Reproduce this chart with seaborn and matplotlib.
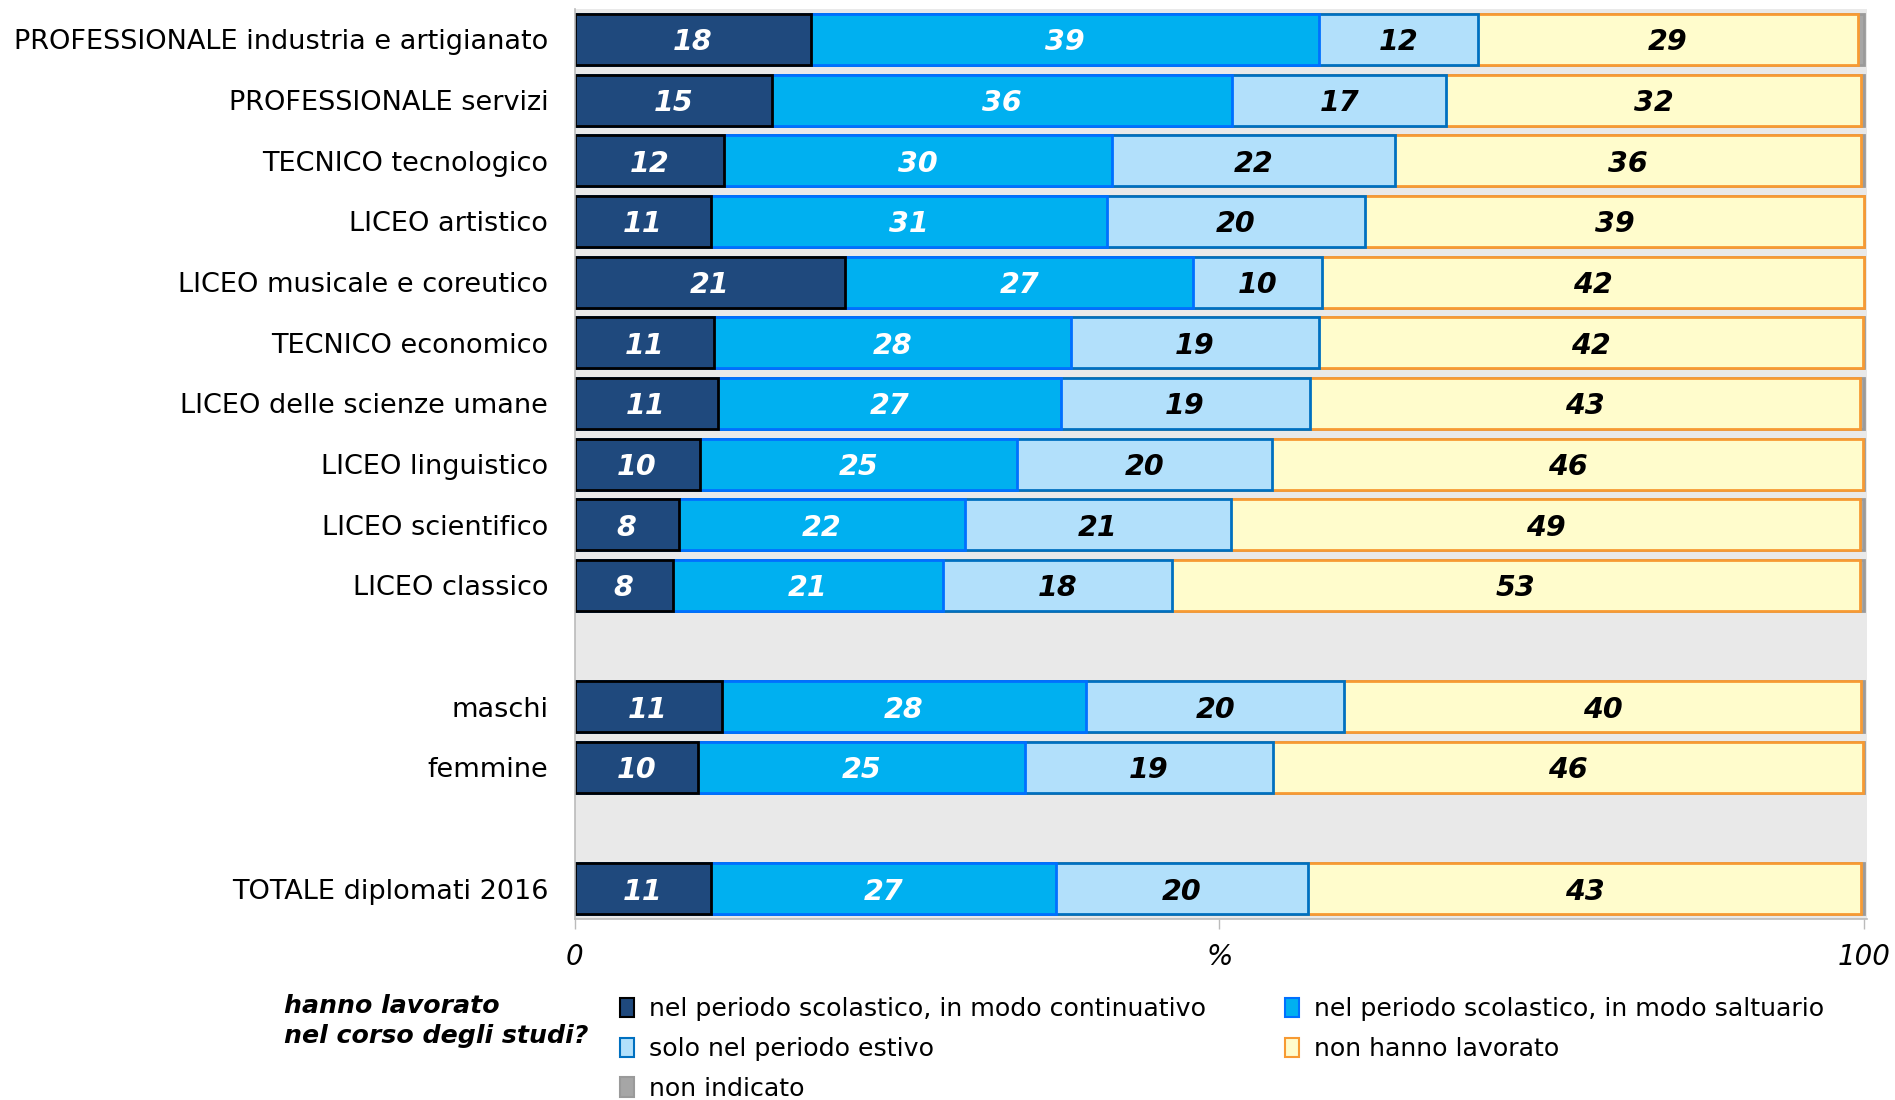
"""Stacked horizontal bars: lavoro durante gli studi per tipo di scuola."""

import matplotlib

matplotlib.use("Agg")

import matplotlib.pyplot as plt
import pandas as pd
import seaborn as sns
from matplotlib.patches import Patch

categories = [
    "PROFESSIONALE industria e artigianato",
    "PROFESSIONALE servizi",
    "TECNICO tecnologico",
    "LICEO artistico",
    "LICEO musicale e coreutico",
    "TECNICO economico",
    "LICEO delle scienze umane",
    "LICEO linguistico",
    "LICEO scientifico",
    "LICEO classico",
    "maschi",
    "femmine",
    "TOTALE diplomati 2016",
]
continuativo = [18.3, 15.3, 11.6, 10.6, 21.0, 10.8, 11.1, 9.7, 8.1, 7.6, 11.4, 9.6, 10.6]
saltuario = [39.4, 35.7, 30.1, 30.7, 27.0, 27.7, 26.6, 24.6, 22.2, 21.0, 28.3, 25.3, 26.7]
estivo = [12.4, 16.6, 21.9, 20.0, 10.0, 19.2, 19.3, 19.8, 20.6, 17.7, 20.0, 19.3, 19.6]
non_lavorato = [29.4, 32.2, 36.2, 38.7, 42.0, 42.2, 42.7, 45.8, 48.8, 53.4, 40.1, 45.7, 42.9]
non_indicato = [0.5, 0.2, 0.2, 0.0, 0.0, 0.1, 0.3, 0.1, 0.3, 0.3, 0.2, 0.1, 0.2]

series_names = [
    "nel periodo scolastico, in modo continuativo",
    "nel periodo scolastico, in modo saltuario",
    "solo nel periodo estivo",
    "non hanno lavorato",
    "non indicato",
]
face_colors = ["#1F497D", "#00B0F0", "#B2E0FB", "#FFFCCC", "#A6A6A6"]
edge_colors = ["#000000", "#0070FF", "#0070C0", "#F79A33", "#9A9A9A"]
label_colors = ["white", "white", "black", "black", None]

# gaps between the school block, the gender block and the total
order = categories[:10] + [" "] + categories[10:12] + ["  "] + categories[12:]

values = pd.DataFrame(
    {
        series_names[0]: continuativo,
        series_names[1]: saltuario,
        series_names[2]: estivo,
        series_names[3]: non_lavorato,
        series_names[4]: non_indicato,
    },
    index=categories,
)
cumulative = values.cumsum(axis=1)
cumulative["categoria"] = categories

sns.set_theme(style="white", context="notebook")
plt.rcParams["font.family"] = ["DejaVu Sans"]
plt.rcParams["text.color"] = "black"
plt.rcParams["xtick.color"] = "black"
plt.rcParams["ytick.color"] = "black"

figure = plt.figure(figsize=(18.95, 11.0), dpi=100)
axis = figure.add_axes([0.3032, 0.1645, 0.6818, 0.8273])
axis.set_facecolor("#E9E9E9")

# draw widest layer first so each stacked segment keeps its own outline
for name, face, edge in reversed(list(zip(series_names, face_colors, edge_colors))):
    sns.barplot(
        data=cumulative,
        x=name,
        y="categoria",
        order=order,
        orient="h",
        color=face,
        saturation=1,
        edgecolor=edge,
        linewidth=2,
        width=0.84,
        errorbar=None,
        ax=axis,
    )

starts = cumulative[series_names].shift(1, axis=1).fillna(0)
for name, text_color in zip(series_names, label_colors):
    if text_color is None:
        continue
    for category in categories:
        value = values.loc[category, name]
        centre = starts.loc[category, name] + value / 2
        axis.text(
            centre,
            order.index(category) + 0.05,
            f"{value:.0f}",
            ha="center",
            va="center",
            color=text_color,
            fontsize=20.5,
            fontweight="bold",
            fontstyle="italic",
        )

axis.set_xlim(0, 100.2)
axis.set_ylim(len(order) - 0.5, -0.5)
axis.set_xticks([0, 50, 100])
axis.set_xticklabels(["0", "%", "100"], fontstyle="italic", fontsize=20)
axis.tick_params(axis="x", bottom=True, length=7, width=1, color="#BBBBBB", pad=10)
axis.tick_params(axis="y", left=False, length=0, labelsize=19.5, pad=19)
axis.set_xlabel("")
axis.set_ylabel("")
for side in ["top", "right"]:
    axis.spines[side].set_visible(False)
for side in ["left", "bottom"]:
    axis.spines[side].set_color("#BBBBBB")
    axis.spines[side].set_linewidth(1.2)

figure.text(
    0.150,
    0.072,
    "hanno lavorato\nnel corso degli studi?",
    ha="left",
    va="center",
    fontsize=18.2,
    fontweight="bold",
    fontstyle="italic",
    linespacing=1.3,
)

handles = [
    Patch(facecolor=face, edgecolor=edge, linewidth=1.5, label=name)
    for name, face, edge in zip(series_names, face_colors, edge_colors)
]
# legend fills column by column; reorder so entries read across rows
legend_order = [0, 2, 4, 1, 3]
figure.legend(
    [handles[i] for i in legend_order],
    [series_names[i] for i in legend_order],
    loc="upper left",
    bbox_to_anchor=(0.322, 0.1025),
    ncols=2,
    frameon=False,
    fontsize=18.2,
    handlelength=0.55,
    handleheight=0.8,
    handletextpad=0.6,
    columnspacing=3.1,
    labelspacing=0.62,
    borderaxespad=0,
)

figure.savefig("out.png", dpi=100)
plt.close(figure)
